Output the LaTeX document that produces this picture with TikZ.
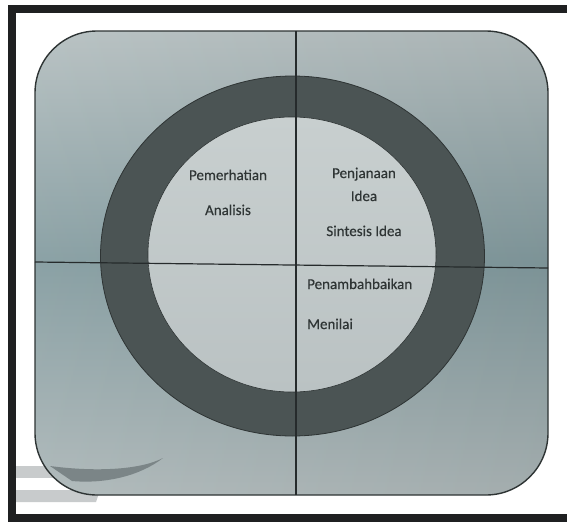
\documentclass[tikz,border=0pt]{standalone}
\usepackage{fontspec}
\setmainfont{Carlito}
\newfontfamily\lblfont[FakeBold=0.4]{Carlito}
\definecolor{framec}{HTML}{1F2021}
\definecolor{bgtop}{HTML}{B6C0C1}
\definecolor{bgmid}{HTML}{849CA0}
\definecolor{bgbot}{HTML}{AEB8B9}
\definecolor{ringc}{HTML}{4B5454}
\definecolor{ringedge}{HTML}{2E3434}
\definecolor{innertop}{HTML}{C8CFCF}
\definecolor{innerbot}{HTML}{BAC2C3}
\definecolor{linec}{HTML}{262B2C}
\definecolor{txt}{HTML}{2F3535}
\definecolor{logodark}{HTML}{7B8587}
\definecolor{logolight}{HTML}{C8CBCC}
\begin{document}
\begin{tikzpicture}[x=1pt,y=-1pt,
  lbl/.style={font=\lblfont\fontsize{15}{17}\selectfont, text=txt, inner sep=0pt, anchor=base},
  lblw/.style={lbl, anchor=base west},
  divider/.style={line width=1.5pt, draw=linec},
  panel/.style={rounded corners=62pt}]
\useasboundingbox (0,0) rectangle (567,522);
\fill[white] (0,0) rectangle (567,522);
% outer frame
\fill[framec] (8,5) rectangle (567,13);
\fill[framec] (8,5) rectangle (16,522);
\fill[framec] (8,514) rectangle (567,522);
% faint logo stripes outside the panel
\fill[logolight] (16,466) -- (70,466) -- (70,478) -- (16,478) -- cycle;
\fill[logolight] (16,490) -- (100,490) -- (96,502) -- (16,502) -- cycle;
% panel
\shade[panel, top color=bgtop, bottom color=bgbot, middle color=bgmid] (35,31) rectangle (548,495);
\shade[panel, left color=white, right color=black, fill opacity=0.06] (35,31) rectangle (548,495);
% logo crescent inside the panel
\fill[logodark] (50,466) .. controls (95,472) and (140,470) .. (163,458)
  .. controls (140,476) and (105,484) .. (72,481) -- cycle;
\draw[ringedge, line width=1.4pt, panel] (35,31) rectangle (548,495);
% ring
\fill[ringc, draw=ringedge, line width=0.8pt] (292.5,256) ellipse [x radius=192, y radius=180];
\shade[top color=innertop, bottom color=innerbot, draw=ringedge, line width=0.6pt]
  (292,254.5) ellipse [x radius=144, y radius=137.5];
% dividers
\coordinate (vt) at (296,31);
\coordinate (vb) at (296,495);
\coordinate (hl) at (35,262);
\coordinate (hr) at (548,268);
\draw[divider] (vt) -- (vb);
\draw[divider, line width=1.2pt] (hl) -- (hr);
% labels
\node[lbl] (pem) at (228,180) {Pemerhatian};
\node[lbl] (ana) at (228,215) {Analisis};
\node[lbl] (pen) at (364,178) {Penjanaan};
\node[lbl] (ide) at (364,201) {Idea};
\node[lbl] (sin) at (364,236) {Sintesis Idea};
\node[lblw] (pnb) at (307,289) {Penambahbaikan};
\node[lblw] (men) at (307,329) {Menilai};
\end{tikzpicture}
\end{document}
